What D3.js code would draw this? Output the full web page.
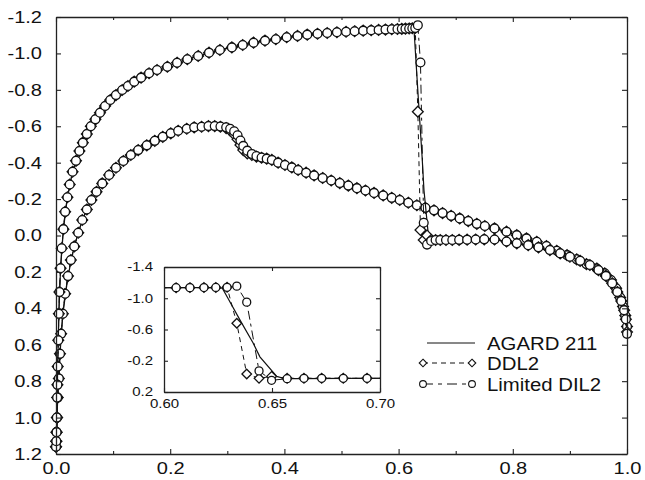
<!DOCTYPE html>
<html>
<head>
<meta charset="utf-8">
<script src="https://cdn.jsdelivr.net/npm/d3@7"></script>
<style>
  body { margin: 0; background: #fff; }
  svg { display: block; }
  text { font-family: "Liberation Sans", Arial, Helvetica, sans-serif; fill: #111; }
</style>
</head>
<body>
<script>
// ---- Surface A (shocked surface): chordwise stations and Cp per scheme ----
const xA = [
  0, 0.0005, 0.001, 0.0015, 0.002, 0.0025, 0.003, 0.004, 0.005, 0.006,
  0.008, 0.010, 0.013, 0.016, 0.020, 0.024, 0.029, 0.035, 0.041, 0.047,
  0.054, 0.061, 0.069, 0.077, 0.086, 0.095, 0.105, 0.116, 0.126, 0.137,
  0.149, 0.163, 0.177, 0.195, 0.212, 0.230, 0.249, 0.268, 0.287, 0.308,
  0.327, 0.346, 0.366, 0.385, 0.404, 0.423, 0.440, 0.458, 0.475, 0.492,
  0.508, 0.523, 0.538, 0.552, 0.565, 0.577, 0.588, 0.598, 0.6056, 0.612,
  0.6185, 0.624, 0.6292, 0.6337, 0.6383, 0.644, 0.6498, 0.657, 0.6648, 0.673,
  0.683, 0.694, 0.706, 0.720, 0.735, 0.750, 0.768, 0.789, 0.807, 0.827,
  0.845, 0.865, 0.883, 0.900, 0.918, 0.935, 0.950, 0.963, 0.974, 0.983,
  0.990, 0.995, 0.998, 1.000
];
const ddl2CpA = [
  1.16, 1.13, 1.08, 1.00, 0.89, 0.82, 0.72, 0.575, 0.43, 0.31,
  0.18, 0.07, -0.035, -0.13, -0.21, -0.28, -0.35, -0.41, -0.464, -0.51,
  -0.557, -0.60, -0.638, -0.674, -0.711, -0.744, -0.771, -0.799, -0.821, -0.845,
  -0.867, -0.891, -0.909, -0.927, -0.949, -0.968, -0.986, -1.004, -1.019, -1.033,
  -1.046, -1.059, -1.070, -1.078, -1.089, -1.096, -1.103, -1.108, -1.112, -1.116,
  -1.119, -1.122, -1.125, -1.127, -1.129, -1.131, -1.133, -1.134, -1.135, -1.136,
  -1.137, -1.138, -1.140, -0.68, -0.03, 0.025, 0.00, 0.025, 0.025, 0.025,
  0.025, 0.025, 0.024, 0.023, 0.022, 0.021, 0.022, 0.033, 0.043, 0.053,
  0.065, 0.080, 0.098, 0.117, 0.139, 0.162, 0.190, 0.222, 0.262, 0.310,
  0.36, 0.41, 0.46, 0.53
];
const dil2CpA = [
  1.16, 1.13, 1.08, 1.00, 0.89, 0.82, 0.72, 0.575, 0.43, 0.31,
  0.18, 0.07, -0.035, -0.13, -0.21, -0.28, -0.35, -0.41, -0.464, -0.51,
  -0.557, -0.60, -0.638, -0.674, -0.711, -0.744, -0.771, -0.799, -0.821, -0.845,
  -0.867, -0.891, -0.909, -0.927, -0.949, -0.968, -0.986, -1.004, -1.019, -1.033,
  -1.046, -1.059, -1.070, -1.078, -1.089, -1.096, -1.103, -1.108, -1.112, -1.116,
  -1.119, -1.122, -1.125, -1.127, -1.129, -1.131, -1.133, -1.134, -1.135, -1.136,
  -1.137, -1.138, -1.140, -1.155, -0.95, -0.07, 0.05, 0.03, 0.025, 0.025,
  0.025, 0.025, 0.024, 0.023, 0.022, 0.021, 0.022, 0.033, 0.043, 0.053,
  0.065, 0.080, 0.098, 0.117, 0.139, 0.162, 0.190, 0.222, 0.262, 0.310,
  0.36, 0.41, 0.46, 0.54
];

// ---- Surface B (subsonic surface) ----
const xB = [
  0, 0.0005, 0.001, 0.002, 0.003, 0.005, 0.007, 0.009, 0.012, 0.016,
  0.021, 0.026, 0.032, 0.039, 0.046, 0.054, 0.062, 0.071, 0.081, 0.093,
  0.105, 0.118, 0.131, 0.144, 0.159, 0.173, 0.187, 0.201, 0.214, 0.229,
  0.242, 0.255, 0.267, 0.278, 0.288, 0.298, 0.305, 0.312, 0.318, 0.323,
  0.328, 0.335, 0.343, 0.351, 0.360, 0.369, 0.378, 0.389, 0.401, 0.413,
  0.424, 0.438, 0.452, 0.467, 0.482, 0.497, 0.512, 0.527, 0.542, 0.557,
  0.573, 0.588, 0.602, 0.617, 0.632, 0.647, 0.662, 0.677, 0.692, 0.707,
  0.722, 0.737, 0.751, 0.768, 0.789, 0.807, 0.824, 0.842, 0.859, 0.877,
  0.895, 0.912, 0.929, 0.947, 0.961, 0.972, 0.981, 0.988, 0.993, 0.997,
  1.000
];
const ddl2CpB = [
  1.16, 1.13, 1.08, 1.00, 0.89, 0.785, 0.65, 0.54, 0.43, 0.32,
  0.223, 0.135, 0.06, -0.015, -0.085, -0.143, -0.195, -0.24, -0.286, -0.332,
  -0.372, -0.409, -0.442, -0.469, -0.495, -0.52, -0.542, -0.561, -0.575, -0.586,
  -0.594, -0.597, -0.601, -0.601, -0.597, -0.59, -0.577, -0.555, -0.528, -0.497,
  -0.469, -0.451, -0.442, -0.433, -0.427, -0.422, -0.415, -0.40, -0.387, -0.374,
  -0.36, -0.345, -0.33, -0.316, -0.302, -0.288, -0.274, -0.26, -0.247, -0.234,
  -0.22, -0.207, -0.195, -0.18, -0.166, -0.152, -0.138, -0.123, -0.108, -0.094,
  -0.079, -0.064, -0.052, -0.039, -0.021, -0.002, 0.016, 0.035, 0.058, 0.084,
  0.108, 0.131, 0.157, 0.181, 0.208, 0.245, 0.29, 0.34, 0.39, 0.44,
  0.50
];
const dil2CpB = [
  1.16, 1.13, 1.08, 1.00, 0.89, 0.785, 0.65, 0.54, 0.43, 0.32,
  0.223, 0.135, 0.06, -0.015, -0.085, -0.143, -0.195, -0.24, -0.286, -0.332,
  -0.372, -0.409, -0.442, -0.469, -0.495, -0.52, -0.542, -0.561, -0.575, -0.586,
  -0.594, -0.597, -0.601, -0.601, -0.598, -0.594, -0.586, -0.572, -0.55, -0.522,
  -0.492, -0.466, -0.448, -0.436, -0.428, -0.422, -0.415, -0.40, -0.387, -0.374,
  -0.36, -0.345, -0.33, -0.316, -0.302, -0.288, -0.274, -0.26, -0.247, -0.234,
  -0.22, -0.207, -0.195, -0.18, -0.166, -0.152, -0.138, -0.123, -0.108, -0.094,
  -0.079, -0.064, -0.052, -0.039, -0.021, -0.002, 0.016, 0.035, 0.058, 0.084,
  0.108, 0.131, 0.157, 0.181, 0.208, 0.245, 0.29, 0.34, 0.39, 0.44,
  0.50
];

// ---- AGARD 211 reference distribution ----
const agardXA = [
  0, 0.001, 0.002, 0.003, 0.005, 0.008, 0.013, 0.020, 0.029, 0.041,
  0.054, 0.069, 0.086, 0.105, 0.126, 0.149, 0.177, 0.212, 0.249, 0.287,
  0.327, 0.366, 0.404, 0.440, 0.475, 0.508, 0.538, 0.565, 0.588, 0.6056,
  0.6185, 0.627, 0.6296, 0.6352, 0.6412, 0.6444, 0.6522, 0.656, 0.665, 0.683,
  0.706, 0.735, 0.768, 0.807, 0.845, 0.883, 0.918, 0.950, 0.974, 0.990,
  0.998, 1.000
];
const agardCpA = [
  1.16, 1.08, 0.89, 0.72, 0.43, 0.18, -0.035, -0.21, -0.35, -0.464,
  -0.557, -0.638, -0.711, -0.771, -0.821, -0.867, -0.909, -0.949, -0.986, -1.019,
  -1.046, -1.07, -1.089, -1.103, -1.112, -1.119, -1.125, -1.129, -1.133, -1.135,
  -1.136, -1.13, -1.0, -0.72, -0.43, -0.25, 0.0, 0.03, 0.03, 0.025,
  0.024, 0.022, 0.022, 0.043, 0.065, 0.098, 0.139, 0.19, 0.262, 0.36,
  0.46, 0.53
];
const agardXB = [
  0, 0.001, 0.003, 0.007, 0.012, 0.021, 0.032, 0.046, 0.062, 0.081,
  0.105, 0.131, 0.159, 0.187, 0.214, 0.242, 0.267, 0.288, 0.305, 0.318,
  0.328, 0.343, 0.36, 0.378, 0.401, 0.438, 0.482, 0.527, 0.573, 0.617,
  0.662, 0.707, 0.751, 0.789, 0.824, 0.859, 0.895, 0.929, 0.961, 0.981,
  0.993, 1.0
];
const agardCpB = [
  1.16, 1.08, 0.89, 0.65, 0.43, 0.223, 0.06, -0.085, -0.195, -0.286,
  -0.372, -0.442, -0.495, -0.542, -0.575, -0.594, -0.601, -0.598, -0.583, -0.54,
  -0.48, -0.445, -0.428, -0.415, -0.387, -0.345, -0.302, -0.26, -0.22, -0.18,
  -0.138, -0.094, -0.052, -0.021, 0.016, 0.058, 0.108, 0.157, 0.208, 0.29,
  0.39, 0.50
];

// ---- Axis ticks ----
const xTicks = [0, 0.2, 0.4, 0.6, 0.8, 1.0];
const xMinorTicks = [0.1, 0.3, 0.5, 0.7, 0.9];
const yTicks = [-1.2, -1.0, -0.8, -0.6, -0.4, -0.2, 0.0, 0.2, 0.4, 0.6, 0.8, 1.0, 1.2];
const insetXTicks = [0.60, 0.65, 0.70];
const insetYTicks = [-1.4, -1.0, -0.6, -0.2, 0.2];
const legendLabels = ["AGARD 211", "DDL2", "Limited DIL2"];

// ---- Layout ----
const W = 645, H = 480;
const plot = { left: 56, right: 627, top: 17, bottom: 454 };
const insetBox = { left: 164, right: 380, top: 267, bottom: 392 };
const FONT = '"Liberation Sans", Arial, Helvetica, sans-serif';
const INK = "#111";

const locale = d3.formatLocale({ decimal: ".", thousands: ",", grouping: [3], currency: ["", ""], minus: "-" });
const f1 = locale.format(".1f");
const f2 = locale.format(".2f");

const svg = d3.select("body").append("svg").attr("width", W).attr("height", H);

const x = d3.scaleLinear().domain([0, 1]).range([plot.left, plot.right]);
const y = d3.scaleLinear().domain([-1.2, 1.2]).range([plot.top, plot.bottom]);
const ix = d3.scaleLinear().domain([0.6, 0.7]).range([insetBox.left, insetBox.right]);
const iy = d3.scaleLinear().domain([-1.4, 0.2]).range([insetBox.top, insetBox.bottom]);

const seriesA = {
  agard: d3.zip(agardXA, agardCpA),
  ddl2: d3.zip(xA, ddl2CpA),
  dil2: d3.zip(xA, dil2CpA)
};
const seriesB = {
  agard: d3.zip(agardXB, agardCpB),
  ddl2: d3.zip(xB, ddl2CpB),
  dil2: d3.zip(xB, dil2CpB)
};

const DASH_DDL2 = "5,4";
const DASH_DIL2 = "9,4,3,4";

function diamondPath(h) {
  return `M0,${-h}L${h},0L0,${h}L${-h},0Z`;
}

// Draw the three schemes for one surface into group g with scales sx, sy
function drawSurface(g, s, sx, sy, markerR, diamondH) {
  const line = d3.line().x(d => sx(d[0])).y(d => sy(d[1]));
  g.append("path").datum(s.agard).attr("d", line)
    .attr("fill", "none").attr("stroke", INK).attr("stroke-width", 1.2);
  g.append("path").datum(s.ddl2).attr("d", line)
    .attr("fill", "none").attr("stroke", INK).attr("stroke-width", 1)
    .attr("stroke-dasharray", DASH_DDL2);
  g.append("path").datum(s.dil2).attr("d", line)
    .attr("fill", "none").attr("stroke", INK).attr("stroke-width", 1)
    .attr("stroke-dasharray", DASH_DIL2);
  g.selectAll(null).data(s.ddl2).join("path")
    .attr("transform", d => `translate(${sx(d[0])},${sy(d[1])})`)
    .attr("d", diamondPath(diamondH))
    .attr("fill", "#fff").attr("stroke", INK).attr("stroke-width", 1.3);
  g.selectAll(null).data(s.dil2).join("circle")
    .attr("cx", d => sx(d[0])).attr("cy", d => sy(d[1])).attr("r", markerR)
    .attr("fill", "#fff").attr("stroke", INK).attr("stroke-width", 1.3);
}

// ---- Main plot data ----
const mainData = svg.append("g");
drawSurface(mainData, seriesB, x, y, 4.4, 5.4);
drawSurface(mainData, seriesA, x, y, 4.4, 5.4);

// ---- Main frame and axes ----
function styleAxis(g) {
  g.attr("font-family", FONT);
  g.select(".domain").attr("stroke", "#222").attr("stroke-width", 1.3);
  g.selectAll(".tick line").attr("stroke", "#222").attr("stroke-width", 1.1);
}
const TS = 1.18; // horizontal stretch of the tick lettering

const gLeft = svg.append("g").attr("transform", `translate(${plot.left},0)`)
  .call(d3.axisLeft(y).tickValues(yTicks).tickSizeInner(-5).tickSizeOuter(0).tickFormat(f1))
  .call(styleAxis).attr("font-size", 17);
gLeft.selectAll("text").attr("x", -14 / TS).attr("transform", `scale(${TS},1)`).attr("fill", INK);

svg.append("g").attr("transform", `translate(${plot.right},0)`)
  .call(d3.axisRight(y).tickValues(yTicks).tickSizeInner(-5).tickSizeOuter(0).tickFormat(""))
  .call(styleAxis);

const gBottom = svg.append("g").attr("transform", `translate(0,${plot.bottom})`)
  .call(d3.axisBottom(x).tickValues(xTicks).tickSizeInner(-5).tickSizeOuter(0).tickFormat(f1))
  .call(styleAxis).attr("font-size", 17);
gBottom.selectAll("text").attr("y", 20).attr("dy", 0).attr("transform", `scale(${TS},1)`).attr("fill", INK);

svg.append("g").attr("transform", `translate(0,${plot.bottom})`)
  .call(d3.axisBottom(x).tickValues(xMinorTicks).tickSizeInner(-3).tickSizeOuter(0).tickFormat(""))
  .call(styleAxis).call(g => g.select(".domain").remove());

svg.append("g").attr("transform", `translate(0,${plot.top})`)
  .call(d3.axisTop(x).tickValues(xTicks).tickSizeInner(-5).tickSizeOuter(0).tickFormat(""))
  .call(styleAxis);
svg.append("g").attr("transform", `translate(0,${plot.top})`)
  .call(d3.axisTop(x).tickValues(xMinorTicks).tickSizeInner(-3).tickSizeOuter(0).tickFormat(""))
  .call(styleAxis).call(g => g.select(".domain").remove());

// ---- Inset: zoom on the shock ----
const inset = svg.append("g");
inset.append("rect")
  .attr("x", insetBox.left).attr("y", insetBox.top)
  .attr("width", insetBox.right - insetBox.left).attr("height", insetBox.bottom - insetBox.top)
  .attr("fill", "#fff");
svg.append("defs").append("clipPath").attr("id", "inset-clip").append("rect")
  .attr("x", insetBox.left).attr("y", insetBox.top)
  .attr("width", insetBox.right - insetBox.left).attr("height", insetBox.bottom - insetBox.top);
const insetData = inset.append("g").attr("clip-path", "url(#inset-clip)");
drawSurface(insetData, seriesA, ix, iy, 4, 4.8);

const IS = 1.25;
const giLeft = inset.append("g").attr("transform", `translate(${insetBox.left},0)`)
  .call(d3.axisLeft(iy).tickValues(insetYTicks).tickSizeInner(-4).tickSizeOuter(0).tickFormat(f1))
  .call(styleAxis).attr("font-size", 12);
giLeft.selectAll("text").attr("x", -11 / IS).attr("transform", `scale(${IS},1)`).attr("fill", INK);

inset.append("g").attr("transform", `translate(${insetBox.right},0)`)
  .call(d3.axisRight(iy).tickValues(insetYTicks).tickSizeInner(-4).tickSizeOuter(0).tickFormat(""))
  .call(styleAxis);

const giBottom = inset.append("g").attr("transform", `translate(0,${insetBox.bottom})`)
  .call(d3.axisBottom(ix).tickValues(insetXTicks).tickSizeInner(-4).tickSizeOuter(0).tickFormat(f2))
  .call(styleAxis).attr("font-size", 12);
giBottom.selectAll("text").attr("y", 16).attr("dy", 0).attr("transform", `scale(${IS},1)`).attr("fill", INK);

inset.append("g").attr("transform", `translate(0,${insetBox.top})`)
  .call(d3.axisTop(ix).tickValues(insetXTicks).tickSizeInner(-4).tickSizeOuter(0).tickFormat(""))
  .call(styleAxis);

// ---- Legend ----
const legend = svg.append("g");
const LS = 1.1;
const rows = [
  { label: legendLabels[0], y: 343, dash: null, marker: null },
  { label: legendLabels[1], y: 363, dash: DASH_DDL2, marker: "diamond" },
  { label: legendLabels[2], y: 384, dash: "10,5,4,5", marker: "circle" }
];
rows.forEach(r => {
  const x1 = r.marker ? 423 : 427, x2 = r.marker ? 472 : 475;
  legend.append("line").attr("x1", x1).attr("x2", x2).attr("y1", r.y).attr("y2", r.y)
    .attr("stroke", INK).attr("stroke-width", 1)
    .attr("stroke-dasharray", r.dash);
  [x1, x2].forEach(px => {
    if (r.marker === "diamond") {
      legend.append("path").attr("transform", `translate(${px},${r.y})`)
        .attr("d", diamondPath(3.8)).attr("fill", "#fff").attr("stroke", INK).attr("stroke-width", 1.1);
    } else if (r.marker === "circle") {
      legend.append("circle").attr("cx", px).attr("cy", r.y).attr("r", 3.4)
        .attr("fill", "#fff").attr("stroke", INK).attr("stroke-width", 1.1);
    }
  });
  legend.append("text")
    .attr("transform", `translate(487,${r.y + 6.6}) scale(${LS},1)`)
    .attr("font-size", 18.5)
    .text(r.label);
});
</script>
</body>
</html>
